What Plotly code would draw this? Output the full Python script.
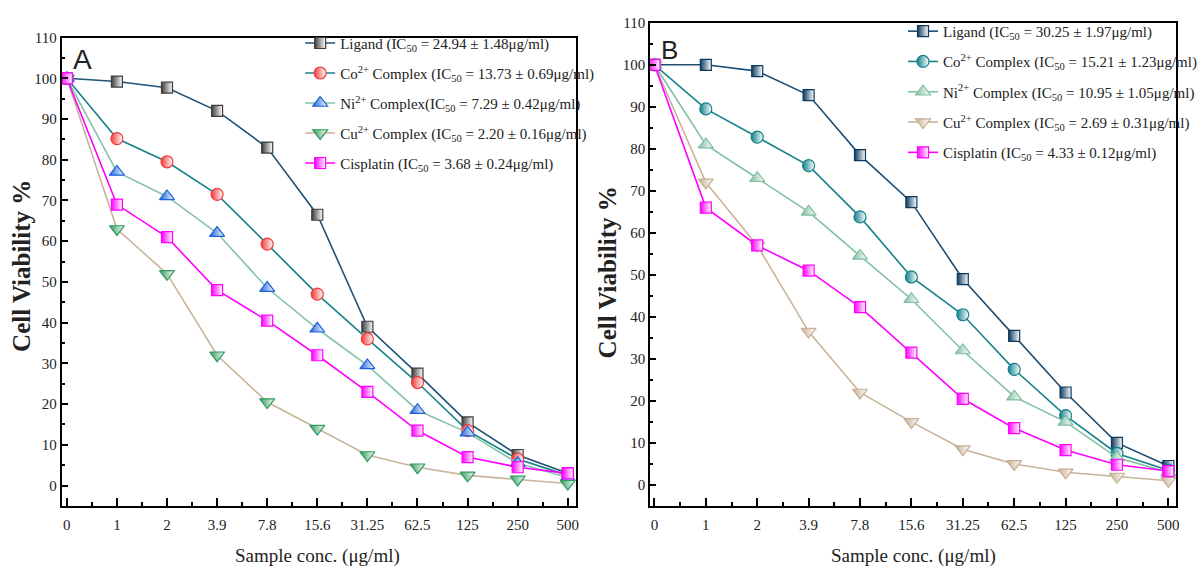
import plotly.graph_objects as go

conc_labels = ["0", "1", "2", "3.9", "7.8", "15.6", "31.25", "62.5", "125", "250", "500"]

# Panel A values (cell viability %)
a_ligand = [100, 99.2, 97.7, 92.0, 83.0, 66.5, 39.0, 27.5, 15.5, 7.5, 3.0]
a_co = [100, 85.2, 79.5, 71.5, 59.3, 47.0, 36.0, 25.3, 13.5, 6.5, 2.5]
a_ni = [100, 77.0, 71.0, 62.0, 48.5, 38.5, 29.5, 18.5, 13.0, 5.5, 2.0]
a_cu = [100, 63.0, 52.0, 32.0, 20.5, 14.0, 7.5, 4.5, 2.5, 1.5, 0.5]
a_cis = [100, 69.0, 61.0, 48.0, 40.5, 32.0, 23.0, 13.5, 7.0, 4.5, 3.0]

# Panel B values (cell viability %)
b_ligand = [100, 100, 98.5, 92.8, 78.5, 67.3, 49.0, 35.5, 22.0, 10.0, 4.5]
b_co = [100, 89.5, 82.8, 76.0, 63.8, 49.5, 40.5, 27.5, 16.5, 7.5, 3.5]
b_ni = [100, 81.0, 73.0, 65.0, 54.5, 44.2, 32.0, 21.0, 15.0, 6.5, 3.0]
b_cu = [100, 72.0, 57.0, 36.5, 22.0, 15.0, 8.5, 5.0, 3.0, 2.0, 1.0]
b_cis = [100, 66.0, 57.0, 51.0, 42.3, 31.5, 20.5, 13.5, 8.3, 4.8, 3.3]

a_names = [
    "Ligand (IC<sub>50</sub> = 24.94 ± 1.48μg/ml)",
    "Co<sup>2+</sup> Complex (IC<sub>50</sub> = 13.73 ± 0.69μg/ml)",
    "Ni<sup>2+</sup> Complex(IC<sub>50</sub> = 7.29 ± 0.42μg/ml)",
    "Cu<sup>2+</sup> Complex (IC<sub>50</sub> = 2.20 ± 0.16μg/ml)",
    "Cisplatin (IC<sub>50</sub> = 3.68 ± 0.24μg/ml)",
]
b_names = [
    "Ligand (IC<sub>50</sub> = 30.25 ± 1.97μg/ml)",
    "Co<sup>2+</sup> Complex (IC<sub>50</sub> = 15.21 ± 1.23μg/ml)",
    "Ni<sup>2+</sup> Complex (IC<sub>50</sub> = 10.95 ± 1.05μg/ml)",
    "Cu<sup>2+</sup> Complex (IC<sub>50</sub> = 2.69 ± 0.31μg/ml)",
    "Cisplatin (IC<sub>50</sub> = 4.33 ± 0.12μg/ml)",
]

xpos = list(range(len(conc_labels)))

a_series = [a_ligand, a_co, a_ni, a_cu, a_cis]
b_series = [b_ligand, b_co, b_ni, b_cu, b_cis]

a_line_colors = ["#1f5276", "#17828a", "#86c2a8", "#c9b59b", "#ff00ff"]
a_marker_colors = ["#3c3c3c", "#f23a3a", "#1c62dc", "#2e9a5c", "#ff00ff"]
b_line_colors = ["#1d4d72", "#17828a", "#82c0a2", "#c9b398", "#ff00ff"]
b_marker_colors = ["#0c3a5e", "#12808a", "#7fbea0", "#c6ae92", "#ff00ff"]
symbols = ["square", "circle", "triangle-up", "triangle-down", "square"]
sizes = [11, 12, 13, 13, 11]

fig = go.Figure()

for i in range(5):
    fig.add_trace(go.Scatter(
        x=xpos, y=a_series[i], name=a_names[i], mode="lines+markers",
        line=dict(color=a_line_colors[i], width=1.6),
        marker=dict(symbol=symbols[i], size=sizes[i], color=a_marker_colors[i],
                    gradient=dict(type="horizontal", color="white"),
                    line=dict(color=a_marker_colors[i], width=1.2)),
        xaxis="x", yaxis="y", legend="legend", legendgroup="a%d" % i,
    ))
for i in range(5):
    fig.add_trace(go.Scatter(
        x=xpos, y=b_series[i], name=b_names[i], mode="lines+markers",
        line=dict(color=b_line_colors[i], width=1.6),
        marker=dict(symbol=symbols[i], size=sizes[i], color=b_marker_colors[i],
                    gradient=dict(type="horizontal", color="white"),
                    line=dict(color=b_marker_colors[i], width=1.2)),
        xaxis="x2", yaxis="y2", legend="legend2", legendgroup="b%d" % i,
    ))

W, H = 1202, 571
serif = "Liberation Serif, Times New Roman, serif"
tickfont = dict(family=serif, size=15, color="#222")

def xaxis_cfg(domain, anchor, rng):
    return dict(domain=domain, anchor=anchor, range=rng,
                tickmode="array", tickvals=xpos, ticktext=conc_labels,
                ticks="inside", ticklen=8, tickwidth=1.5, tickcolor="black",
                minor=dict(ticks="inside", ticklen=4, tickwidth=1.5, tickcolor="black",
                           tickmode="linear", tick0=0.5, dtick=1),
                showline=True, linecolor="black", linewidth=2, mirror=True,
                showgrid=False, zeroline=False, tickfont=tickfont, ticklabelstandoff=4)

def yaxis_cfg(domain, anchor):
    return dict(domain=domain, anchor=anchor, range=[-5, 110],
                tickmode="linear", tick0=0, dtick=10,
                ticks="inside", ticklen=6, tickwidth=1.5, tickcolor="black",
                minor=dict(ticks="inside", ticklen=3, tickwidth=1.5, tickcolor="black",
                           tickmode="linear", tick0=5, dtick=10),
                showline=True, linecolor="black", linewidth=2, mirror=True,
                showgrid=False, zeroline=False, tickfont=tickfont)

fig.update_layout(
    width=W, height=H,
    margin=dict(l=0, r=0, t=0, b=0),
    paper_bgcolor="white", plot_bgcolor="white",
    font=dict(family=serif, color="#222"),
    xaxis=xaxis_cfg([63 / W, 587 / W], "y", [-0.1, 10.16]),
    yaxis=yaxis_cfg([1 - 505 / H, 1 - 30 / H], "x"),
    xaxis2=xaxis_cfg([663 / W, 1199 / W], "y2", [-0.08, 10.15]),
    yaxis2=yaxis_cfg([1 - 505 / H, 1 - 15 / H], "x2"),
    legend=dict(x=306 / W, y=1 - 19 / H, xanchor="left", yanchor="top",
                bgcolor="rgba(0,0,0,0)", borderwidth=0, tracegroupgap=7.5,
                font=dict(family=serif, size=15, color="#222")),
    legend2=dict(x=921 / W, y=1 - 7 / H, xanchor="left", yanchor="top",
                 bgcolor="rgba(0,0,0,0)", borderwidth=0, tracegroupgap=7.8,
                 font=dict(family=serif, size=15, color="#222")),
    showlegend=True,
)

def note(text, px, py, size, family=serif, angle=0):
    return dict(text=text, x=px / W, y=1 - py / H, xref="paper", yref="paper",
                xanchor="center", yanchor="middle", showarrow=False, textangle=angle,
                font=dict(family=family, size=size, color="#222"))

sans = "Liberation Sans, Arial, sans-serif"
ann = [
    note("<b>Cell Viability %</b>", 22, 262, 25, angle=-90),
    note("<b>Cell Viability %</b>", 619, 268, 25, angle=-90),
    note("Sample conc. (μg/ml)", 324, 556, 19),
    note("Sample conc. (μg/ml)", 931, 556, 19),
    note("A", 84, 52, 28, family=sans),
    note("B", 683, 43, 26, family=sans),
]
fig.update_layout(annotations=ann)

fig.write_html("out.html")
